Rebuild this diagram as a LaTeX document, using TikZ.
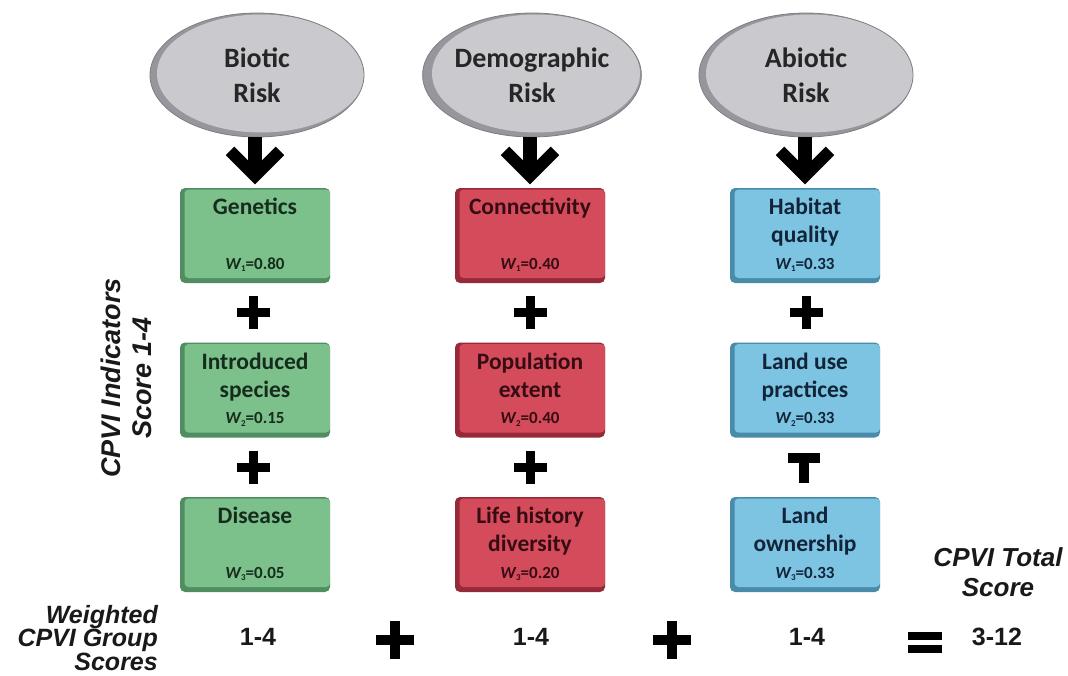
\documentclass[tikz,border=0pt]{standalone}
\usepackage{fontspec}
\setmainfont{Carlito}
\newfontfamily\arialf{Liberation Sans}
\usetikzlibrary{shapes.geometric,calc}

\definecolor{ellface}{RGB}{202,202,206}
\definecolor{ellrim}{RGB}{150,150,156}
\definecolor{ellline}{RGB}{125,125,130}
\definecolor{gface}{RGB}{124,192,140}
\definecolor{gdark}{RGB}{80,142,98}
\definecolor{gtext}{RGB}{22,44,28}
\definecolor{rface}{RGB}{212,76,92}
\definecolor{rdark}{RGB}{150,42,56}
\definecolor{rtext}{RGB}{55,12,18}
\definecolor{bface}{RGB}{124,196,226}
\definecolor{bdark}{RGB}{72,140,170}
\definecolor{btext}{RGB}{18,36,56}

\tikzset{
  x=1pt, y=-1pt,
  risk/.style={ellipse, minimum width=214pt, minimum height=124pt, inner sep=0pt,
    fill=ellrim, draw=ellline, line width=0.8pt, align=center, text=black!85,
    font=\fontsize{28}{35}\selectfont\bfseries,
    path picture={\fill[ellface] ([xshift=4pt,yshift=1.5pt]path picture bounding box.center) ellipse (104pt and 59pt);}},
  ind/.style 2 args={rectangle, rounded corners=5pt, minimum width=150pt, minimum height=95pt,
    inner sep=0pt, fill=#1,
    path picture={\fill[#2, rounded corners=4pt]
      ([xshift=4.5pt,yshift=-1.5pt]path picture bounding box.north west) rectangle
      ([yshift=5pt]path picture bounding box.south east);}},
  gbox/.style={ind={gdark}{gface}},
  rbox/.style={ind={rdark}{rface}},
  bbox/.style={ind={bdark}{bface}},
  % the base anchor of a multi-line node sits on its last line
  ttl/.style={anchor=base, align=center, inner sep=0pt,
    font=\fontsize{23.5}{28}\selectfont\bfseries},
  wt/.style={anchor=base, inner sep=0pt, font=\fontsize{17}{19}\selectfont\bfseries},
  lbl/.style={inner sep=0pt, text=black!90},
  score/.style={inner sep=0pt, font=\arialf\bfseries\fontsize{25}{28}\selectfont, text=black!90},
  shaft/.style={line width=14pt, black},
  head/.style={line width=12pt, black, miter limit=10},
  pics/plus/.style 2 args={code={
    \fill[black] ({-#1/2},{-#2/2}) rectangle ({#1/2},{#2/2});
    \fill[black] ({-#2/2},{-#1/2}) rectangle ({#2/2},{#1/2});}},
  pics/tee/.style={code={
    \fill[black] (-16,-15) rectangle (16,-5);
    \fill[black] (-5,-15) rectangle (5,15);}},
  pics/equals/.style={code={
    \fill[black] (-17,-10) rectangle (17,-2);
    \fill[black] (-17,3) rectangle (17,11);}},
}

\newcommand{\wsub}[2]{\textit{W}\kern-0.5pt\raisebox{-0.3ex}{\fontsize{9}{9}\selectfont #1}=#2}

\begin{document}
\begin{tikzpicture}
\fill[white] (0,0) rectangle (1068,675);
\useasboundingbox (0,0) rectangle (1068,675);

% risk groups
\node[risk] (bio) at (257,75) {Biotic\\Risk};
\node[risk] (dem) at (532,75) {Demographic\\Risk};
\node[risk] (abi) at (806,75) {Abiotic\\Risk};

% indicator boxes
\node[gbox] (g1) at (255,235.5) {};
\node[gbox] (g2) at (255,390) {};
\node[gbox] (g3) at (255,544.5) {};
\node[rbox] (r1) at (530,235.5) {};
\node[rbox] (r2) at (530,390) {};
\node[rbox] (r3) at (530,544.5) {};
\node[bbox] (b1) at (805,235.5) {};
\node[bbox] (b2) at (805,390) {};
\node[bbox] (b3) at (805,544.5) {};

% box titles (one line: base 27pt below the top; two lines: last base 55pt below)
\node[ttl, text=gtext] (g1t) at ($(g1.north)+(0,27)$) {Genetics};
\node[ttl, text=gtext] (g2t) at ($(g2.north)+(0,55)$) {Introduced\\species};
\node[ttl, text=gtext] (g3t) at ($(g3.north)+(0,27)$) {Disease};
\node[ttl, text=rtext] (r1t) at ($(r1.north)+(0,27)$) {Connectivity};
\node[ttl, text=rtext] (r2t) at ($(r2.north)+(0,55)$) {Population\\extent};
\node[ttl, text=rtext] (r3t) at ($(r3.north)+(0,55)$) {Life history\\diversity};
\node[ttl, text=btext] (b1t) at ($(b1.north)+(0,55)$) {Habitat\\quality};
\node[ttl, text=btext] (b2t) at ($(b2.north)+(0,55)$) {Land use\\practices};
\node[ttl, text=btext] (b3t) at ($(b3.north)+(0,55)$) {Land\\ownership};

% weights
\node[wt, text=gtext] (g1w) at ($(g1.south)+(0,-14)$) {\wsub{1}{0.80}};
\node[wt, text=gtext] (g2w) at ($(g2.south)+(0,-14)$) {\wsub{2}{0.15}};
\node[wt, text=gtext] (g3w) at ($(g3.south)+(0,-14)$) {\wsub{3}{0.05}};
\node[wt, text=rtext] (r1w) at ($(r1.south)+(0,-14)$) {\wsub{1}{0.40}};
\node[wt, text=rtext] (r2w) at ($(r2.south)+(0,-14)$) {\wsub{2}{0.40}};
\node[wt, text=rtext] (r3w) at ($(r3.south)+(0,-14)$) {\wsub{3}{0.20}};
\node[wt, text=btext] (b1w) at ($(b1.south)+(0,-14)$) {\wsub{1}{0.33}};
\node[wt, text=btext] (b2w) at ($(b2.south)+(0,-14)$) {\wsub{2}{0.33}};
\node[wt, text=btext] (b3w) at ($(b3.south)+(0,-14)$) {\wsub{3}{0.33}};

% block arrows from each risk group to its first indicator
\foreach \e/\b in {bio/g1, dem/r1, abi/b1}{
  \draw[shaft] (\b.north |- \e.south) -- ($(\b.north)+(0,-14)$);
  \draw[head] ($(\b.north)+(-25,-37)$) -- ($(\b.north)+(0,-12)$) -- ($(\b.north)+(25,-37)$);
}

% plus signs between indicators
\pic at (253,312) {plus={33}{9}};
\pic at (253,467) {plus={33}{9}};
\pic at (530,312) {plus={33}{9}};
\pic at (530,467) {plus={33}{9}};
\pic at (806,312) {plus={33}{9}};
\pic at (804,468) {tee};

% axis labels
\node[lbl, rotate=90, align=center, font=\arialf\bfseries\itshape\fontsize{27}{31}\selectfont]
  (indlbl) at (126,378) {CPVI Indicators\\Score 1-4};
\node[lbl, anchor=east, align=right, font=\arialf\bfseries\itshape\fontsize{25}{21}\selectfont]
  (grplbl) at (158,638) {Weighted\\CPVI Group\\Scores};
\node[lbl, align=center, font=\arialf\bfseries\itshape\fontsize{26}{30}\selectfont]
  (totlbl) at (998,572) {CPVI Total\\Score};

% group scores and total
\node[score] (s1) at (258,637) {1-4};
\node[score] (s2) at (531,637) {1-4};
\node[score] (s3) at (807,637) {1-4};
\node[score] (tot) at (997,637) {3-12};
\pic at (395,640) {plus={38}{10}};
\pic at (672,640) {plus={38}{10}};
\pic at (925,642) {equals};
\end{tikzpicture}
\end{document}
